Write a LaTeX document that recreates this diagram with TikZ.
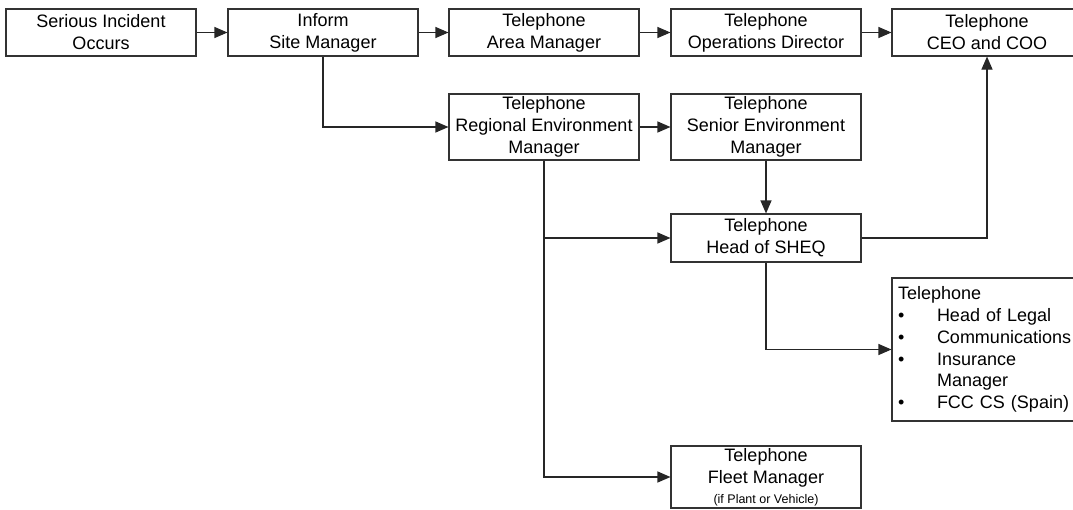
\documentclass[tikz,border=0pt]{standalone}
\usepackage{fontspec}
\setmainfont{Liberation Sans}
\usetikzlibrary{arrows.meta}
\begin{document}
\begin{tikzpicture}[x=1pt,y=-1pt,
  box/.style={draw=black!80, line width=1.1pt, minimum width=190pt, inner sep=0pt,
    align=center, font=\fontsize{18}{22}\selectfont},
  arr/.style={draw=black!85, line width=1.1pt, -{Triangle[length=13pt,width=11pt]}},
  conn/.style={draw=black!85, line width=1.1pt}]
\clip (0,0) rectangle (1073,509);
\node[box, minimum height=47pt] (inc) at (101,32.5) {Serious Incident\\Occurs};
\node[box, minimum height=47pt] (site) at (323,32.5) {Inform\\Site Manager};
\node[box, minimum height=47pt] (area) at (544,32.5) {Telephone\\Area Manager};
\node[box, minimum height=47pt] (ops) at (766,32.5) {Telephone\\Operations Director};
\node[box, minimum height=47pt] (ceo) at (987,32.5) {Telephone\\CEO and COO};
\node[box, minimum height=66pt] (rem) at (544,127) {Telephone\\Regional Environment\\Manager};
\node[box, minimum height=66pt] (sen) at (766,127) {Telephone\\Senior Environment\\Manager};
\node[box, minimum height=48pt] (sheq) at (766,238) {Telephone\\Head of SHEQ};
\node[box, minimum height=143pt, text width=178pt, inner xsep=6pt, align=left,
  font=\fontsize{18}{21.7}\selectfont] (list) at (987,349.5)
  {Telephone\\
   \makebox[39pt][l]{\textbullet}Head of Legal\\
   \makebox[39pt][l]{\textbullet}Communications\\
   \makebox[39pt][l]{\textbullet}Insurance\\
   \hspace*{39pt}Manager\\
   \makebox[39pt][l]{\textbullet}FCC CS (Spain)};
\node[box, minimum height=62pt] (fleet) at (766,477)
  {Telephone\\Fleet Manager\\[-2pt]{\fontsize{12.5}{15}\selectfont (if Plant or Vehicle)}};
\draw[arr] (inc) -- (site);
\draw[arr] (site) -- (area);
\draw[arr] (area) -- (ops);
\draw[arr] (ops) -- (ceo);
\draw[arr] (site.south) |- (rem.west);
\draw[arr] (rem) -- (sen);
\draw[arr] (sen) -- (sheq);
\draw[arr] (rem.south) |- (fleet.west);
\coordinate (br) at (rem.south |- sheq.west);
\draw[arr] (br) -- (sheq.west);
\draw[arr] (sheq.east) -| (ceo.south);
\draw[arr] (sheq.south) |- (list.west);
\end{tikzpicture}
\end{document}
